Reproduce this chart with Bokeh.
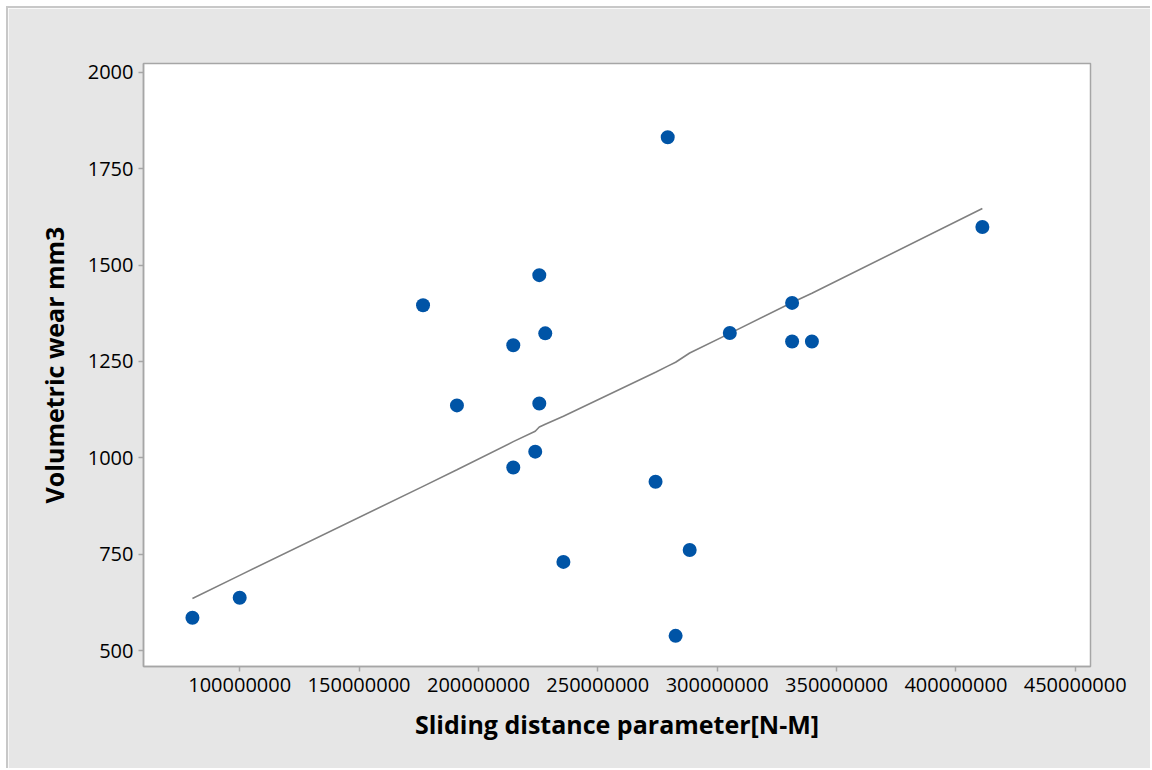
from bokeh.plotting import figure
from bokeh.models import Range1d, FixedTicker, CustomJSTickFormatter
from bokeh.embed import file_html
from bokeh.resources import INLINE

# Scatter data (sliding distance in N-M, volumetric wear in mm3)
sliding_distance = [80.2e6, 100.0e6, 176.8e6, 191.0e6, 214.6e6, 214.6e6, 223.8e6,
                    225.5e6, 225.5e6, 228.0e6, 235.6e6, 274.2e6, 279.3e6, 282.6e6,
                    288.5e6, 305.3e6, 331.4e6, 331.4e6, 339.7e6, 411.1e6]
volumetric_wear = [585, 637, 1396, 1136, 1292, 975, 1016,
                   1474, 1141, 1323, 730, 938, 1832, 538,
                   761, 1324, 1402, 1302, 1302, 1599]

# Smoother line
fit_x = [80.2e6, 100.0e6, 176.8e6, 191.0e6, 214.6e6, 223.8e6, 225.5e6, 228.0e6,
         235.6e6, 274.2e6, 279.3e6, 282.6e6, 288.5e6, 305.3e6, 331.4e6, 339.7e6, 411.1e6]
fit_y = [635, 695, 926, 969, 1042, 1069, 1080, 1087,
         1108, 1222, 1238, 1248, 1272, 1323, 1403, 1427, 1647]

x_ticks = [100e6, 150e6, 200e6, 250e6, 300e6, 350e6, 400e6, 450e6]
y_ticks = [500, 750, 1000, 1250, 1500, 1750, 2000]

FONT = "Open Sans"
AXIS_GRAY = "#a6a6a6"

p = figure(width=1144, height=762, output_backend="svg", toolbar_location=None,
           x_range=Range1d(59.7e6, 456.4e6), y_range=Range1d(458.5, 2023.3),
           min_border_left=135, min_border_top=55, min_border_right=62, min_border_bottom=104,
           margin=(6, 0, 0, 6))
p.styles = {"border-left": "2px solid #c8c8c8", "border-top": "2px solid #c8c8c8"}
p.border_fill_color = "#e6e6e6"
p.background_fill_color = "white"
p.outline_line_color = AXIS_GRAY
p.outline_line_width = 1.5
p.grid.visible = False

p.line(fit_x, fit_y, line_color="#808080", line_width=1.6)
p.scatter(sliding_distance, volumetric_wear, size=14, fill_color="#0054A6",
          line_color="#0054A6", line_width=0)

p.xaxis.ticker = FixedTicker(ticks=x_ticks)
p.yaxis.ticker = FixedTicker(ticks=y_ticks)
p.xaxis.formatter = CustomJSTickFormatter(code="return tick.toFixed(0);")
p.yaxis.formatter = CustomJSTickFormatter(code="return tick.toFixed(0);")

for ax in (p.xaxis[0], p.yaxis[0]):
    ax.axis_line_color = AXIS_GRAY
    ax.axis_line_width = 1.5
    ax.major_tick_line_color = AXIS_GRAY
    ax.major_tick_line_width = 1.5
    ax.major_tick_in = 0
    ax.major_tick_out = 5
    ax.minor_tick_line_color = None
    ax.major_label_text_font = FONT
    ax.major_label_text_font_size = "20px"
    ax.major_label_text_color = "black"
    ax.axis_label_text_font = FONT
    ax.axis_label_text_font_size = "25px"
    ax.axis_label_text_font_style = "bold"
    ax.axis_label_text_color = "black"

p.xaxis.axis_label = "Sliding distance parameter[N-M]"
p.yaxis.axis_label = "Volumetric wear mm3"
p.xaxis.major_label_standoff = 6
p.yaxis.major_label_standoff = 5
p.xaxis.axis_label_standoff = 12
p.yaxis.axis_label_standoff = 14

open("out.html", "w").write(file_html(p, INLINE))
